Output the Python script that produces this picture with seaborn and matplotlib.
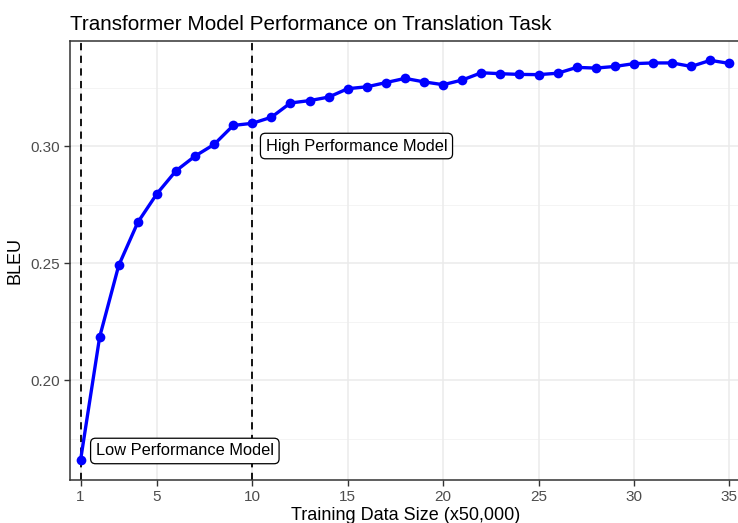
import numpy as np
import pandas as pd
import seaborn as sns
import matplotlib.pyplot as plt

# dados
data_size = list(range(1, 36))
bleu = [0.1658, 0.2184, 0.2490, 0.2674, 0.2796, 0.2894, 0.2957, 0.3007, 0.3088, 0.3097,
        0.3123, 0.3184, 0.3194, 0.3209, 0.3245, 0.3253, 0.3271, 0.3289, 0.3274, 0.3262,
        0.3282, 0.3313, 0.3309, 0.3306, 0.3305, 0.3311, 0.3336, 0.3333, 0.3340, 0.3352,
        0.3355, 0.3355, 0.3340, 0.3366, 0.3353]
x_ticks = [1, 5, 10, 15, 20, 25, 30, 35]
y_ticks = [0.20, 0.25, 0.30]
y_minor = [0.175, 0.225, 0.275, 0.325]
marcos = [1, 10]
rotulos = ["Low Performance Model", "High Performance Model"]
rotulo_pos = [(1.8, 0.1697), (10.7, 0.30)]

df = pd.DataFrame({"size": data_size, "BLEU": bleu})

sns.set_theme(style="white")
plt.rcParams['font.family'] = ['Liberation Sans', 'DejaVu Sans']

fig = plt.figure(figsize=(7.38, 5.23), dpi=100)
ax = fig.add_axes([69.5 / 738, 1 - 480 / 523, (742 - 69.5) / 738, (480 - 40.7) / 523])

# grade
for y in y_minor:
    ax.axhline(y, color='#f2f2f2', lw=0.6, zorder=0)
for y in y_ticks:
    ax.axhline(y, color='#ebebeb', lw=1.1, zorder=0)
for x in x_ticks:
    ax.axvline(x, color='#ebebeb', lw=1.1, zorder=0)

for m in marcos:
    ax.axvline(m, color='black', lw=1.3, ls=(0, (4, 3)), zorder=1)

sns.lineplot(data=df, x="size", y="BLEU", color='#0000ff', lw=2.4,
             marker='o', markersize=7, markeredgewidth=0, ax=ax, zorder=3)

for txt, (tx, ty) in zip(rotulos, rotulo_pos):
    ax.text(tx, ty, txt, ha='left', va='center', fontsize=11.8, color='black', zorder=5,
            bbox=dict(boxstyle='round,pad=0.32,rounding_size=0.3', fc='white', ec='black', lw=0.9))

ax.set_xlim(0.42, 35.66)
ax.set_ylim(0.1573, 0.345)
ax.set_xticks(x_ticks)
ax.set_yticks(y_ticks)
ax.set_yticklabels([f"{v:.2f}" for v in y_ticks])
ax.tick_params(axis='both', which='major', direction='out', length=4, width=1,
               color='#333333', labelcolor='#4d4d4d', labelsize=11, pad=3,
               bottom=True, left=True)
for s in ax.spines.values():
    s.set_color('#333333')
    s.set_linewidth(1.1)
ax.spines['right'].set_visible(False)

ax.set_xlabel("Training Data Size (x50,000)", fontsize=13, labelpad=2, color='black')
ax.set_ylabel("BLEU", fontsize=13, labelpad=5, color='black')
ax.set_title("Transformer Model Performance on Translation Task", fontsize=14.9, loc='left',
             x=0.0, pad=8, color='black')

fig.savefig("out.png", dpi=100)
